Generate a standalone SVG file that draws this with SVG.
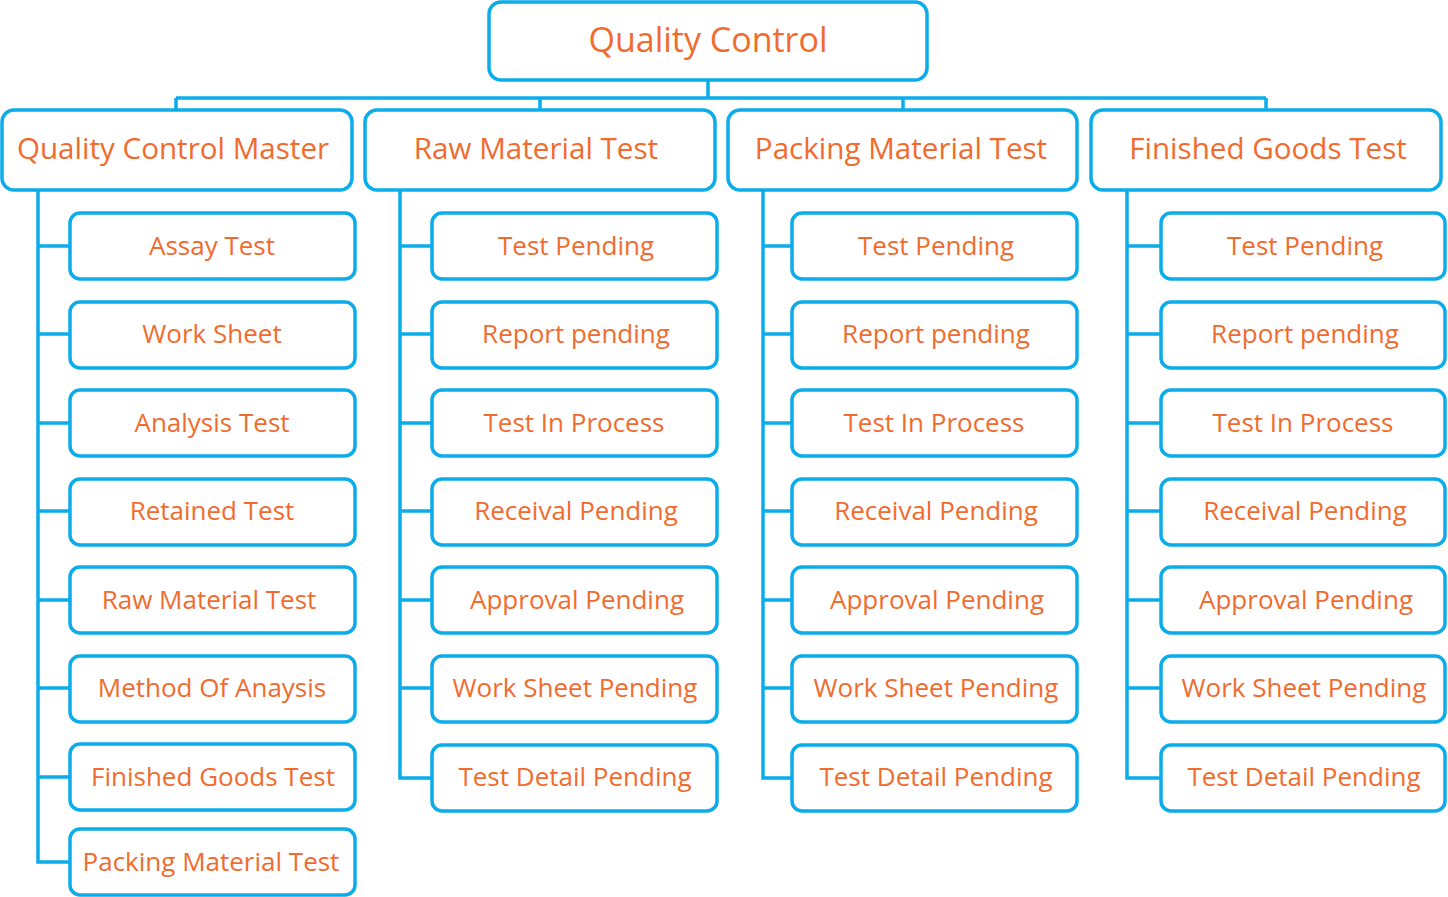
<svg xmlns="http://www.w3.org/2000/svg" width="1448" height="897" viewBox="0 0 1448 897">
<style>
.box{fill:#fff;stroke:#0AACEA;stroke-width:3.5}
.ln{fill:none;stroke:#0AACEA;stroke-width:3.5;stroke-linejoin:miter}
text{font-family:"Open Sans","Liberation Sans",sans-serif;fill:#F26B2E;text-anchor:middle}
.t0{font-size:34px}
.t1{font-size:29.6px}
.t2{font-size:26px}
</style>
<rect width="1448" height="897" fill="#fff"/>
<g id="connectors" class="ln">
<path d="M708 80V98M176 98H1266M176 98V109M540 98V109M903 98V109M1266 98V109"/>
<path d="M38 190V862H70M38 246H70M38 334H70M38 423H70M38 511H70M38 600H70M38 688H70M38 777H70"/>
<path d="M400 190V778H432M400 246H432M400 334H432M400 423H432M400 511H432M400 600H432M400 688H432"/>
<path d="M763 190V778H792M763 246H792M763 334H792M763 423H792M763 511H792M763 600H792M763 688H792"/>
<path d="M1127 190V778H1161M1127 246H1161M1127 334H1161M1127 423H1161M1127 511H1161M1127 600H1161M1127 688H1161"/>
</g>
<g id="root"><rect class="box" x="489" y="2" width="438" height="78" rx="12"/><text class="t0" x="708" y="52">Quality Control</text></g>
<g id="qcm"><rect class="box" x="2" y="110" width="350" height="80" rx="12"/><text class="t1" x="173" y="159">Quality Control Master</text></g>
<g id="rmt"><rect class="box" x="365" y="110" width="350" height="80" rx="12"/><text class="t1" x="536" y="159">Raw Material Test</text></g>
<g id="pmt"><rect class="box" x="728" y="110" width="349" height="80" rx="12"/><text class="t1" x="901" y="159">Packing Material Test</text></g>
<g id="fgt"><rect class="box" x="1091" y="110" width="350" height="80" rx="12"/><text class="t1" x="1268" y="159">Finished Goods Test</text></g>

<g id="c1n1"><rect class="box" x="70" y="213" width="285" height="66" rx="10"/><text class="t2" x="212" y="255">Assay Test</text></g>
<g id="c1n2"><rect class="box" x="70" y="302" width="285" height="66" rx="10"/><text class="t2" x="212" y="343">Work Sheet</text></g>
<g id="c1n3"><rect class="box" x="70" y="390" width="285" height="66" rx="10"/><text class="t2" x="212" y="432">Analysis Test</text></g>
<g id="c1n4"><rect class="box" x="70" y="479" width="285" height="66" rx="10"/><text class="t2" x="212" y="520">Retained Test</text></g>
<g id="c1n5"><rect class="box" x="70" y="567" width="285" height="66" rx="10"/><text class="t2" x="209" y="609">Raw Material Test</text></g>
<g id="c1n6"><rect class="box" x="70" y="656" width="285" height="66" rx="10"/><text class="t2" x="212" y="697">Method Of Anaysis</text></g>
<g id="c1n7"><rect class="box" x="70" y="744" width="285" height="66" rx="10"/><text class="t2" x="213" y="786">Finished Goods Test</text></g>
<g id="c1n8"><rect class="box" x="70" y="829" width="285" height="66" rx="10"/><text class="t2" x="211" y="871">Packing Material Test</text></g>

<g id="c2n1"><rect class="box" x="432" y="213" width="285" height="66" rx="10"/><text class="t2" x="576" y="255">Test Pending</text></g>
<g id="c2n2"><rect class="box" x="432" y="302" width="285" height="66" rx="10"/><text class="t2" x="576" y="343">Report pending</text></g>
<g id="c2n3"><rect class="box" x="432" y="390" width="285" height="66" rx="10"/><text class="t2" x="574" y="432">Test In Process</text></g>
<g id="c2n4"><rect class="box" x="432" y="479" width="285" height="66" rx="10"/><text class="t2" x="576" y="520">Receival Pending</text></g>
<g id="c2n5"><rect class="box" x="432" y="567" width="285" height="66" rx="10"/><text class="t2" x="577" y="609">Approval Pending</text></g>
<g id="c2n6"><rect class="box" x="432" y="656" width="285" height="66" rx="10"/><text class="t2" x="575" y="697">Work Sheet Pending</text></g>
<g id="c2n7"><rect class="box" x="432" y="745" width="285" height="66" rx="10"/><text class="t2" x="575" y="786">Test Detail Pending</text></g>

<g id="c3n1"><rect class="box" x="792" y="213" width="285" height="66" rx="10"/><text class="t2" x="936" y="255">Test Pending</text></g>
<g id="c3n2"><rect class="box" x="792" y="302" width="285" height="66" rx="10"/><text class="t2" x="936" y="343">Report pending</text></g>
<g id="c3n3"><rect class="box" x="792" y="390" width="285" height="66" rx="10"/><text class="t2" x="934" y="432">Test In Process</text></g>
<g id="c3n4"><rect class="box" x="792" y="479" width="285" height="66" rx="10"/><text class="t2" x="936" y="520">Receival Pending</text></g>
<g id="c3n5"><rect class="box" x="792" y="567" width="285" height="66" rx="10"/><text class="t2" x="937" y="609">Approval Pending</text></g>
<g id="c3n6"><rect class="box" x="792" y="656" width="285" height="66" rx="10"/><text class="t2" x="936" y="697">Work Sheet Pending</text></g>
<g id="c3n7"><rect class="box" x="792" y="745" width="285" height="66" rx="10"/><text class="t2" x="936" y="786">Test Detail Pending</text></g>

<g id="c4n1"><rect class="box" x="1161" y="213" width="284" height="66" rx="10"/><text class="t2" x="1305" y="255">Test Pending</text></g>
<g id="c4n2"><rect class="box" x="1161" y="302" width="284" height="66" rx="10"/><text class="t2" x="1305" y="343">Report pending</text></g>
<g id="c4n3"><rect class="box" x="1161" y="390" width="284" height="66" rx="10"/><text class="t2" x="1303" y="432">Test In Process</text></g>
<g id="c4n4"><rect class="box" x="1161" y="479" width="284" height="66" rx="10"/><text class="t2" x="1305" y="520">Receival Pending</text></g>
<g id="c4n5"><rect class="box" x="1161" y="567" width="284" height="66" rx="10"/><text class="t2" x="1306" y="609">Approval Pending</text></g>
<g id="c4n6"><rect class="box" x="1161" y="656" width="284" height="66" rx="10"/><text class="t2" x="1304" y="697">Work Sheet Pending</text></g>
<g id="c4n7"><rect class="box" x="1161" y="745" width="284" height="66" rx="10"/><text class="t2" x="1304" y="786">Test Detail Pending</text></g>
</svg>
